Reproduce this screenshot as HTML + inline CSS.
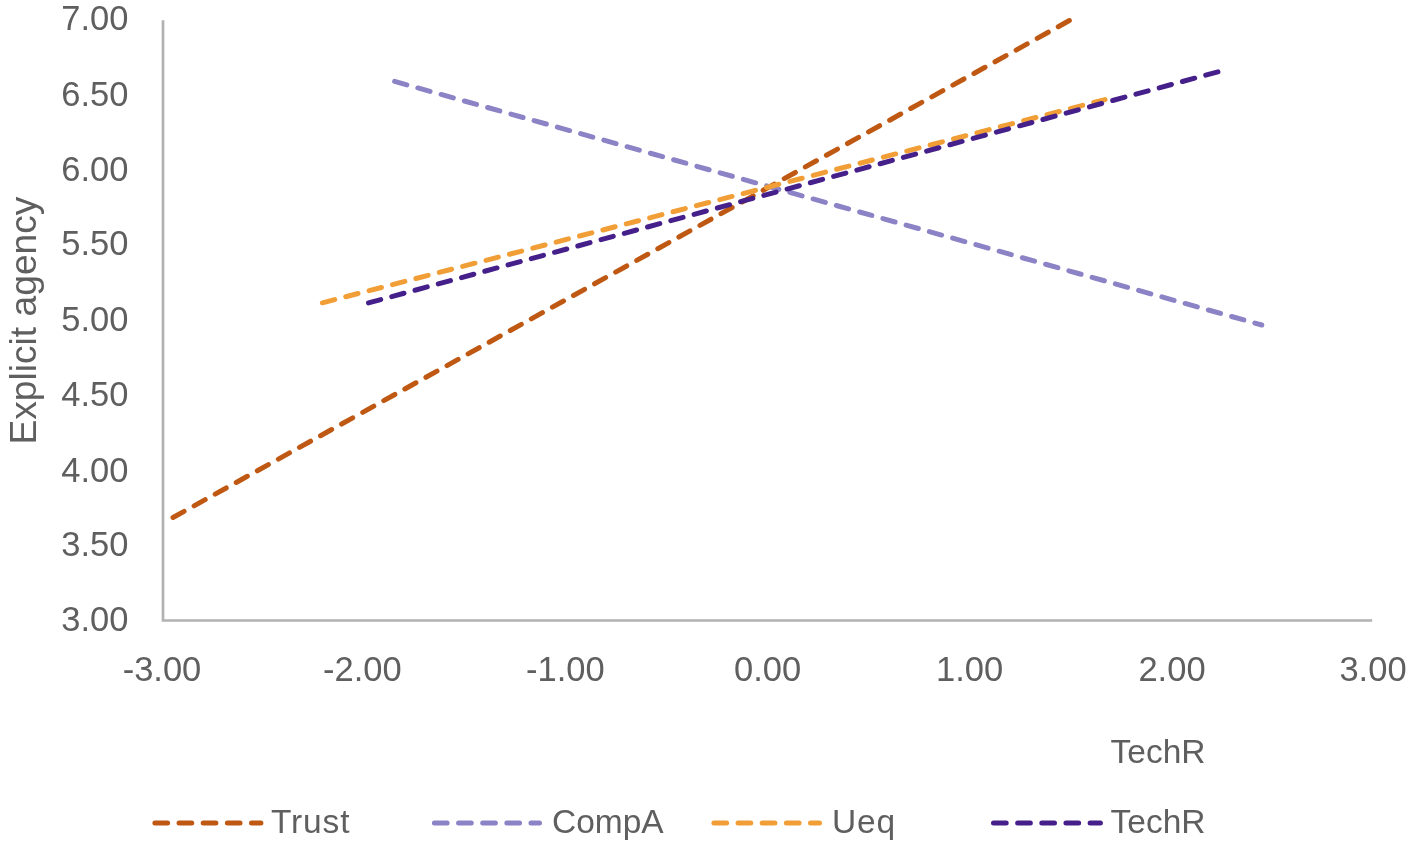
<!DOCTYPE html>
<html>
<head>
<meta charset="utf-8">
<style>
html,body{margin:0;padding:0;background:#fff;}
body{width:1417px;height:848px;overflow:hidden;}
svg{display:block;filter:blur(0.4px);}
text{font-family:"Liberation Sans",sans-serif;fill:#5F5F5F;}
</style>
</head>
<body>
<svg width="1417" height="848" viewBox="0 0 1417 848">
<rect width="1417" height="848" fill="#fff"/>
<!-- axes -->
<path d="M163 20.3 V620.5 H1372.2" fill="none" stroke="#B2B2B2" stroke-width="2.7"/>
<!-- y labels -->
<g font-size="34.5" text-anchor="end">
<text x="128.5" y="29.85">7.00</text>
<text x="128.5" y="106.35">6.50</text>
<text x="128.5" y="180.65">6.00</text>
<text x="128.5" y="255.05">5.50</text>
<text x="128.5" y="331.35">5.00</text>
<text x="128.5" y="405.65">4.50</text>
<text x="128.5" y="482.05">4.00</text>
<text x="128.5" y="556.45">3.50</text>
<text x="128.5" y="631.15">3.00</text>
</g>
<!-- x labels -->
<g font-size="34.5" text-anchor="middle">
<text x="162" y="681">-3.00</text>
<text x="362.3" y="681">-2.00</text>
<text x="565.3" y="681">-1.00</text>
<text x="767.6" y="681">0.00</text>
<text x="969.6" y="681">1.00</text>
<text x="1172" y="681">2.00</text>
<text x="1373" y="681">3.00</text>
</g>
<!-- axis titles -->
<text x="1110.5" y="763" font-size="33.5">TechR</text>
<text transform="translate(36,444.6) rotate(-90)" font-size="37.2">Explicit agency</text>
<!-- series -->
<g fill="none" stroke-width="5" stroke-linecap="round" stroke-dasharray="12.7 11.45">
<path d="M173 517.5 L1069.8 20.3" stroke="#BE5812" stroke-dasharray="12.7 11.4"/>
<path d="M394.6 81.4 L1261.8 325" stroke="#8B83C5"/>
<path d="M322.4 302.8 L1105 99.6" stroke="#F09E35"/>
<path d="M368.5 302.9 L1218.6 71.7" stroke="#46208A" stroke-dasharray="12.7 11.4"/>
</g>
<!-- legend -->
<g fill="none" stroke-width="5" stroke-linecap="round" stroke-dasharray="12.7 11.45">
<path d="M154.9 822.9 H260.9" stroke="#BE5812"/>
<path d="M434.4 822.9 H539.5" stroke="#8B83C5"/>
<path d="M713.9 822.9 H819.5" stroke="#F09E35"/>
<path d="M993.5 822.9 H1100.4" stroke="#46208A"/>
</g>
<g font-size="33.5">
<text x="271" y="833.4" letter-spacing="0.85">Trust</text>
<text x="552" y="833.4">CompA</text>
<text x="832" y="833.4" letter-spacing="0.8">Ueq</text>
<text x="1110.5" y="833.4">TechR</text>
</g>
</svg>
</body>
</html>
